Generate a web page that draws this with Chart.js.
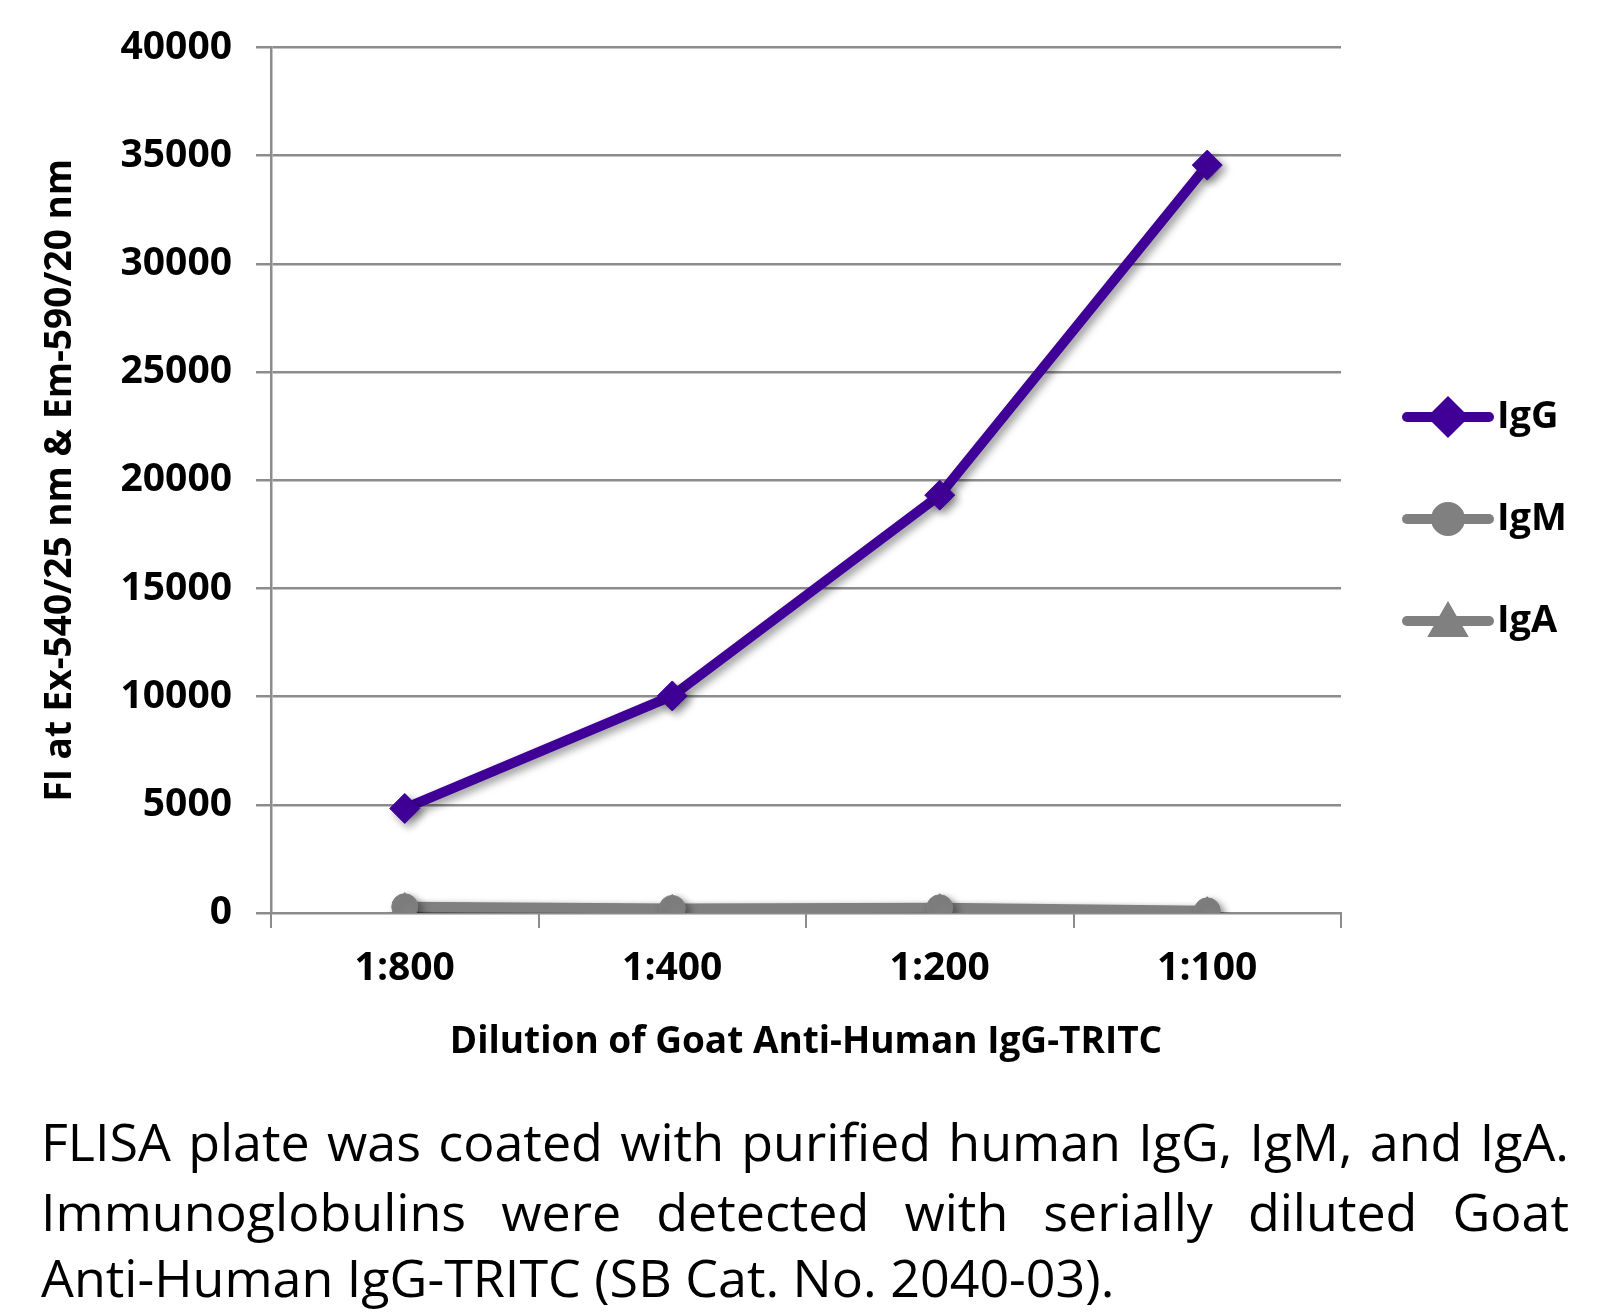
<!DOCTYPE html>
<html>
<head>
<meta charset="utf-8">
<script src="https://cdn.jsdelivr.net/npm/chart.js@4.4.1/dist/chart.umd.min.js"></script>
<style>
  html, body { margin: 0; padding: 0; background: #fff; }
  #wrap { position: relative; width: 1608px; height: 1316px; overflow: hidden; }
  #myChart { position: absolute; left: 0; top: 0; }
  .caption {
    position: absolute; left: 41px; width: 1528px;
    font-family: 'Open Sans', 'Noto Sans', sans-serif;
    font-size: 52px; line-height: 68px; color: #000;
    white-space: nowrap;
  }
  .just { text-align: justify; text-align-last: justify; white-space: normal; }
</style>
</head>
<body>
<div id="wrap">
  <canvas id="myChart" width="1608" height="1070"></canvas>
  <div class="caption just" style="top:1107px">FLISA plate was coated with purified human IgG, IgM, and IgA.</div>
  <div class="caption just" style="top:1177px">Immunoglobulins were detected with serially diluted Goat</div>
  <div class="caption" style="top:1243px">Anti-Human IgG-TRITC (SB Cat. No. 2040-03).</div>
</div>
<script>
const dilutions = ['1:800', '1:400', '1:200', '1:100'];
const igG = [4830, 10030, 19310, 34560];
const igM = [290, 210, 240, 100];
const igA = [250, 170, 200, 60];
const yTicks = [0, 5000, 10000, 15000, 20000, 25000, 30000, 35000, 40000];

const fontFamily = "'Open Sans', 'DejaVu Sans', sans-serif";
const gridGray = '#8c8c8c';
const purple = '#400098';
const gray = '#808080';

const ctx = document.getElementById('myChart');

// soft drop shadow under lines and markers
const shadowPlugin = {
    id: 'shadow',
    beforeDatasetsDraw(chart) {
        const c = chart.ctx;
        c.save();
        c.shadowColor = 'rgba(0,0,0,0.4)';
        c.shadowBlur = 8;
        c.shadowOffsetX = 4;
        c.shadowOffsetY = 4;
    },
    afterDatasetsDraw(chart) {
        chart.ctx.restore();
    }
};

// legend on the right: line with the marker in the middle
const sideLegend = {
    id: 'sideLegend',
    afterDraw(chart) {
        const c = chart.ctx;
        const x0 = 1407, x1 = 1489, tx = 1497;
        const rows = [417, 519, 621];
        chart.data.datasets.forEach((ds, i) => {
            const y = rows[i];
            c.save();
            c.strokeStyle = ds.borderColor;
            c.lineWidth = 10;
            c.lineCap = 'round';
            c.beginPath();
            c.moveTo(x0, y);
            c.lineTo(x1, y);
            c.stroke();
            c.fillStyle = ds.pointBackgroundColor;
            c.strokeStyle = ds.pointBackgroundColor;
            Chart.helpers.drawPoint(c, {
                pointStyle: ds.pointStyle,
                radius: ds.pointRadius - 1,
                rotation: 0,
                borderWidth: 1
            }, (x0 + x1) / 2, ds.pointStyle === 'triangle' ? y + 4 : y);
            c.fillStyle = '#000';
            c.font = 'bold 38px ' + fontFamily;
            c.textAlign = 'left';
            c.textBaseline = 'middle';
            c.fillText(ds.label, tx, y);
            c.restore();
        });
    }
};

const chart = new Chart(ctx, {
    type: 'line',
    data: {
        labels: dilutions,
        datasets: [{
            label: 'IgG',
            data: igG,
            borderColor: purple,
            borderWidth: 10,
            pointStyle: 'rectRot',
            pointRadius: 15,
            pointBorderWidth: 1,
            pointBackgroundColor: purple,
            pointBorderColor: purple,
            tension: 0
        },
        {
            label: 'IgM',
            data: igM,
            borderColor: gray,
            borderWidth: 10,
            pointStyle: 'circle',
            pointRadius: 13,
            pointBorderWidth: 1,
            pointBackgroundColor: gray,
            pointBorderColor: gray,
            tension: 0
        },
        {
            label: 'IgA',
            data: igA,
            borderColor: gray,
            borderWidth: 10,
            pointStyle: 'triangle',
            pointRadius: 15,
            pointBorderWidth: 1,
            pointBackgroundColor: gray,
            pointBorderColor: gray,
            tension: 0
        }]
    },
    options: {
        responsive: false,
        animation: false,
        devicePixelRatio: 1,
        layout: {
            padding: { left: 0, top: 46, right: 267, bottom: 0 }
        },
        plugins: {
            legend: { display: false },
            tooltip: { enabled: false }
        },
        scales: {
            x: {
                offset: true,
                afterFit: (scale) => { scale.height = 157; },
                grid: {
                    offset: true,
                    drawOnChartArea: false,
                    drawTicks: true,
                    tickLength: 15,
                    color: gridGray,
                    lineWidth: 2
                },
                border: { display: true, color: gridGray, width: 2 },
                ticks: {
                    color: '#000',
                    padding: 17,
                    font: { family: fontFamily, size: 39, weight: 'bold' }
                },
                title: {
                    display: true,
                    text: 'Dilution of Goat Anti-Human IgG-TRITC',
                    color: '#000',
                    padding: { top: 0, bottom: 5 },
                    font: { family: fontFamily, size: 37, weight: 'bold' }
                }
            },
            y: {
                min: 0,
                max: 40000,
                afterFit: (scale) => { scale.width = 271; },
                afterBuildTicks: (scale) => {
                    scale.ticks = yTicks.map(v => ({ value: v }));
                },
                grid: {
                    color: gridGray,
                    lineWidth: 2.5,
                    drawTicks: true,
                    tickLength: 15
                },
                border: { display: true, color: gridGray, width: 2.5 },
                ticks: {
                    color: '#000',
                    padding: 24,
                    callback: (v) => String(v),
                    font: { family: fontFamily, size: 39, weight: 'bold' }
                },
                title: {
                    display: true,
                    text: 'FI at Ex-540/25 nm & Em-590/20 nm',
                    color: '#000',
                    padding: { top: 38, bottom: 0 },
                    font: { family: fontFamily, size: 37, weight: 'bold' }
                }
            }
        }
    },
    plugins: [shadowPlugin, sideLegend]
});
</script>
</body>
</html>
